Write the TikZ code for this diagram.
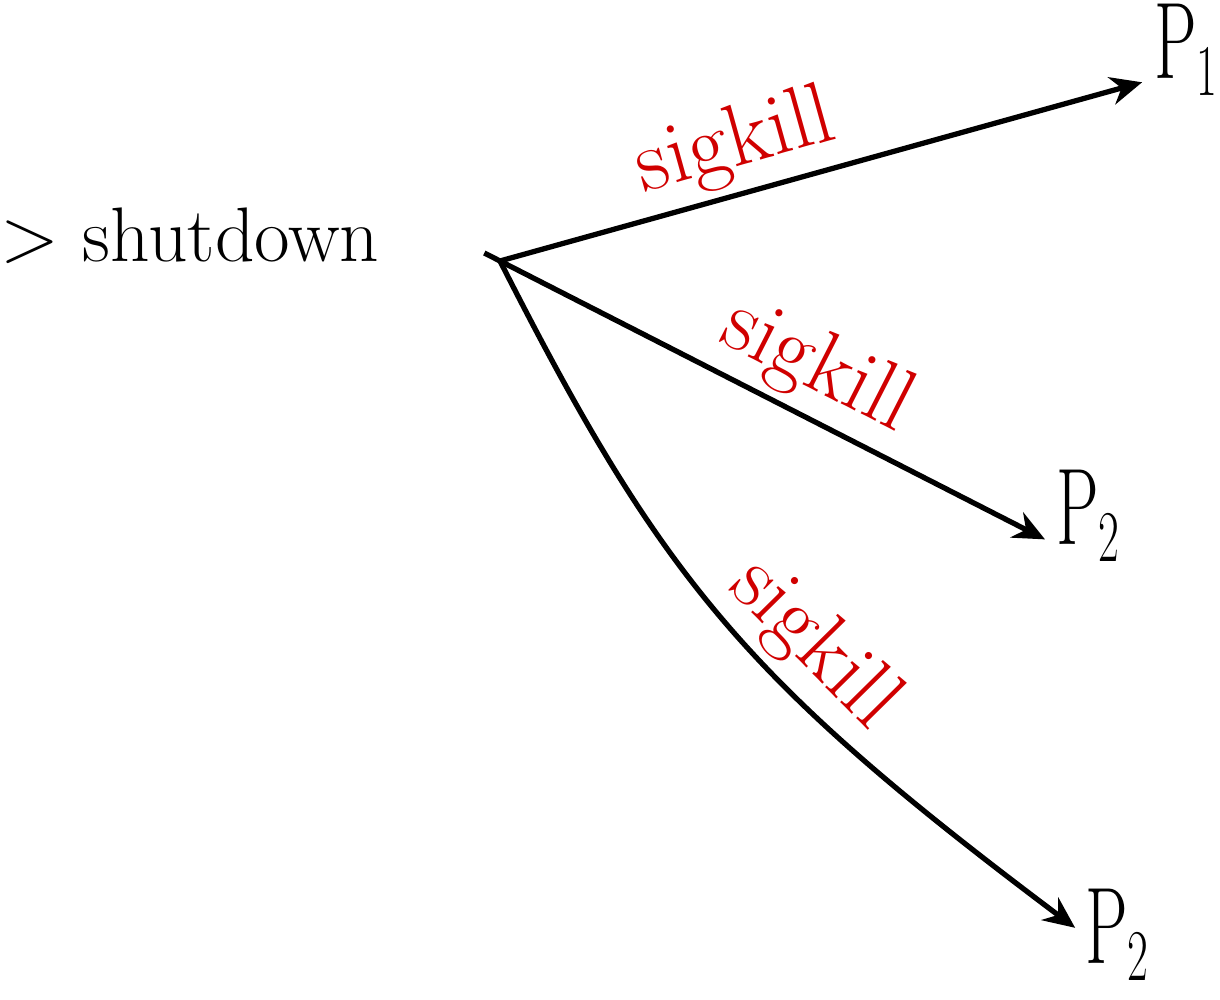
\documentclass[tikz,border=0pt]{standalone}
\usepackage{fontspec}
\usepackage{xcolor}
\usepackage{tikz}
\usetikzlibrary{arrows.meta, positioning, calc}

\definecolor{sigred}{HTML}{D00000}

\begin{document}
\begin{tikzpicture}[
  proc/.style={anchor=base west, inner sep=0pt, xscale=0.62, transform shape, font=\fontsize{31}{38}\selectfont},
  cmd/.style={anchor=base west, inner sep=0pt, font=\fontsize{22}{26}\selectfont},
  sig/.style={sloped, above, inner sep=2pt, text=sigred, font=\fontsize{25}{30}\selectfont},
  arrow/.style={-{Stealth[length=9pt, width=8pt]}, line width=1.5pt, shorten >=3.5pt}
]
\useasboundingbox (0,0) rectangle (12.2,-10);

\node[cmd] (shutdown) at (0, -2.62) {> shutdown};
\coordinate (src) at (5.0, -2.61);

\node[proc] (p1) at (11.54, -0.79) {$\mathrm{P}_1$};
\node[proc] (p2a) at (10.56, -5.45) {$\mathrm{P}_2$};
\node[proc] (p2b) at (10.85, -9.64) {$\mathrm{P}_2$};

\draw[arrow] (src) -- node[sig, pos=0.38] (sig1) {sigkill} (p1.base west);
\draw[arrow, shorten <=-5pt] (src) -- node[sig, pos=0.53] (sig2) {sigkill} (p2a.base west);
\draw[arrow] (src) .. controls (6.62, -5.80) and (7.45, -6.80) .. node[sig, pos=0.6] (sig3) {sigkill} (p2b.west);
\end{tikzpicture}
\end{document}
